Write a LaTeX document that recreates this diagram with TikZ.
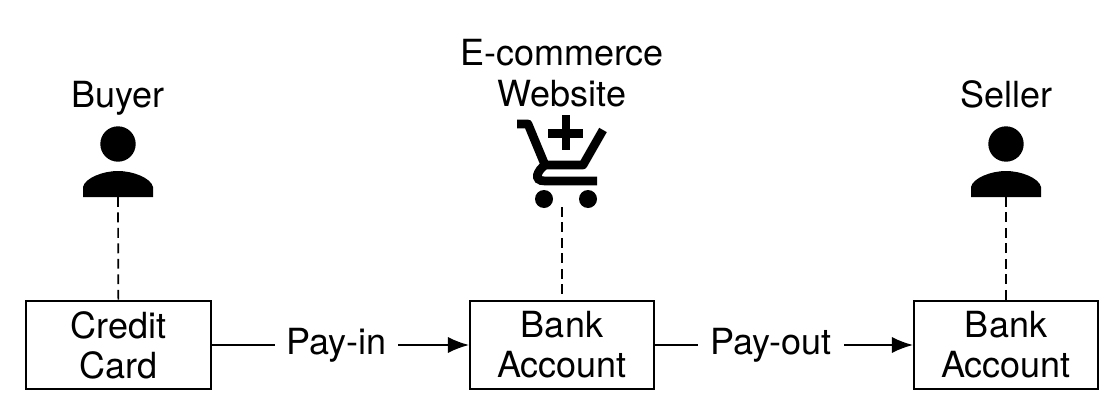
\documentclass[tikz,border=0pt]{standalone}
\usepackage{fontspec}
\setmainfont{TeX Gyre Heros}
\usetikzlibrary{arrows.meta}
\tikzset{
  x=0.025cm, y=-0.025cm,
  every node/.style={font=\fontsize{25.6}{28.5}\selectfont},
  acctbox/.style={draw, line width=1.4pt, minimum width=4.6cm, minimum height=2.2cm, inner sep=0pt, align=center},
  paylabel/.style={inner sep=0pt, minimum height=0.8cm},
  roletext/.style={inner sep=0pt, align=center, anchor=base},
  flowline/.style={line width=1.2pt},
  flowarrow/.style={line width=1.2pt, -{Latex[length=15pt, width=11.5pt]}},
  tieline/.style={line width=1.2pt, dash pattern=on 7pt off 4pt}
}
\newcommand{\personicon}[2]{%
  \fill (#1,144) circle[radius=17.7];
  \fill (#1-35,197) -- (#1-35,187) .. controls (#1-33,178) and (#1-15,171) .. (#1,171)
    .. controls (#1+15,171) and (#1+33,178) .. (#1+35,187) -- (#1+35,197) -- cycle;
  \coordinate (#2) at (#1,197);
}
\begin{document}
\begin{tikzpicture}
  \useasboundingbox (0,0) rectangle (1116,414);
  \node[acctbox] (cardbox) at (118.5,345) {Credit\\Card};
  \node[acctbox] (midbox) at (562,345) {Bank\\Account};
  \node[acctbox] (sellerbox) at (1006,345) {Bank\\Account};
  \node[paylabel, minimum width=3.07cm] (payin) at (336.5,345) {Pay-in};
  \node[paylabel, minimum width=3.65cm] (payout) at (771,345) {Pay-out};
  \draw[flowline] (cardbox) -- (payin);
  \draw[flowarrow] (payin) -- (midbox);
  \draw[flowline] (midbox) -- (payout);
  \draw[flowarrow] (payout) -- (sellerbox);

  % people
  \node[roletext] (buyer) at (118,107) {Buyer};
  \node[roletext] (seller) at (1006,107) {Seller};
  \personicon{118}{buyerfoot}
  \personicon{1006}{sellerfoot}
  \draw[tieline] (buyerfoot) -- (cardbox);
  \draw[tieline] (sellerfoot) -- (sellerbox);

  % website cart
  \node[roletext] (website) at (562,106) {E-commerce\\Website};
  \draw[line width=6.2pt, line join=round] (517,124) -- (528,124) -- (545,165) -- (583,165) -- (603,130);
  \draw[line width=6.2pt] (545,165) .. controls (538,170) and (532,181) .. (545,181) -- (597,181);
  \fill (548,129) rectangle (583,137.5);
  \fill (561.5,115) rectangle (570,150);
  \fill (544,199) circle[radius=9];
  \fill (588,199) circle[radius=9];
  \coordinate (cartfoot) at (562,207);
  \draw[tieline] (cartfoot) -- (midbox);
\end{tikzpicture}
\end{document}
